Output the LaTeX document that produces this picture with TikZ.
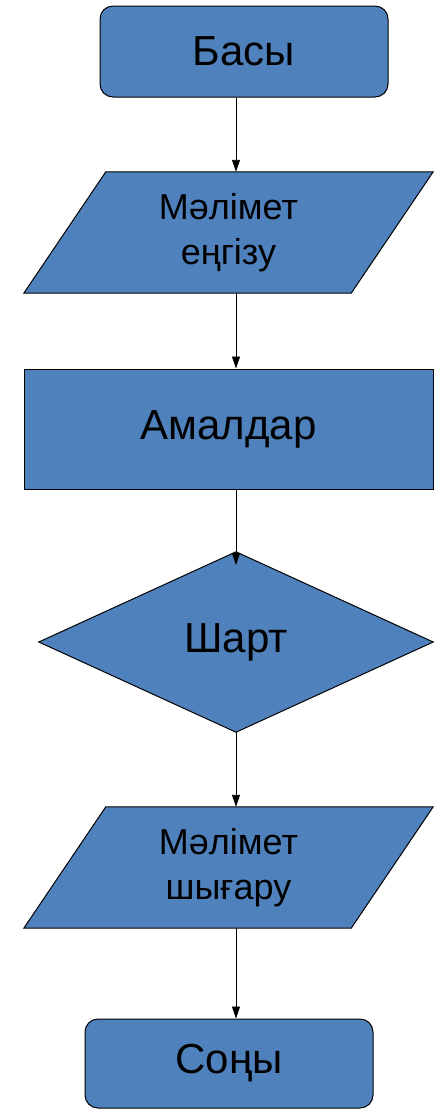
\documentclass[tikz,border=0pt]{standalone}
\usepackage{fontspec}
\setmainfont{Liberation Sans}
\usetikzlibrary{arrows.meta,calc}
\definecolor{boxblue}{HTML}{4F81BD}
\begin{document}
\begin{tikzpicture}[x=1pt,y=-1pt,
  box/.style={draw=black,line width=1pt,fill=boxblue,inner sep=0pt,align=center,font=\fontsize{42}{50}\selectfont},
  frame/.style={draw=none,inner sep=0pt,align=center},
  shapeline/.style={draw=black,line width=1pt,fill=boxblue},
  flow/.style={draw=black,line width=0.9pt,-{Triangle[length=12pt,width=8pt]}},
  bigtext/.style={font=\fontsize{42}{50}\selectfont},
  twotext/.style={font=\fontsize{36}{45}\selectfont}]
\useasboundingbox (0,0) rectangle (434,1109);
\coordinate (ax) at (236,0);
% start
\node[box,rounded corners=13pt,minimum width=288pt,minimum height=91pt] (start) at (244,51.5) {Басы};
% input
\node[frame,minimum width=409pt,minimum height=121pt] (p1) at (228.5,232.5) {};
\path[shapeline] (p1.south west) -- ($(p1.north west)+(82,0)$) -- (p1.north east) -- ($(p1.south east)+(-82,0)$) -- cycle;
\node[twotext,align=center] (p1t) at (p1.center) {Мәлімет\\еңгізу};
% process
\node[box,minimum width=409pt,minimum height=120pt] (proc) at (228.5,429) {Амалдар};
% decision
\node[frame,minimum width=394pt,minimum height=180pt] (dia) at (236,642) {};
\path[shapeline] (dia.north) -- (dia.east) -- (dia.south) -- (dia.west) -- cycle;
\node[bigtext] (diat) at (dia.center) {Шарт};
\coordinate (diatip) at (236,565);
% output
\node[frame,minimum width=409pt,minimum height=121pt] (p2) at (228.5,867.5) {};
\path[shapeline] (p2.south west) -- ($(p2.north west)+(82,0)$) -- (p2.north east) -- ($(p2.south east)+(-82,0)$) -- cycle;
\node[twotext,align=center] (p2t) at (p2.center) {Мәлімет\\шығару};
% end
\node[box,rounded corners=13pt,minimum width=288pt,minimum height=89pt] (stop) at (229,1063.5) {Соңы};
% connectors
\draw[flow] (start.south -| ax) -- (p1.north -| ax);
\draw[flow] (p1.south -| ax) -- (proc.north -| ax);
\draw[flow] (proc.south -| ax) -- (diatip);
\draw[flow] (dia.south) -- (p2.north -| ax);
\draw[flow] (p2.south -| ax) -- (stop.north -| ax);
\end{tikzpicture}
\end{document}
